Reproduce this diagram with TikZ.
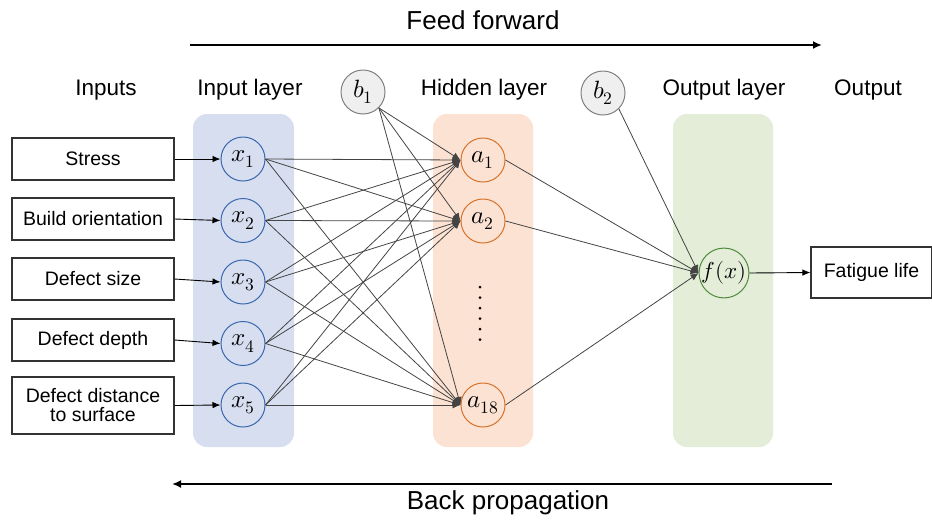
\documentclass[tikz,border=0pt]{standalone}
\usepackage{unicode-math}
\setmainfont{Liberation Sans}
\setmathfont{Latin Modern Math}
\usetikzlibrary{arrows.meta}

\definecolor{inbg}{HTML}{D7DEF0}
\definecolor{hidbg}{HTML}{FCE2D3}
\definecolor{outbg}{HTML}{E3EDD8}
\definecolor{inring}{HTML}{3B67B0}
\definecolor{hidring}{HTML}{D8732B}
\definecolor{outring}{HTML}{4E8A3A}
\definecolor{biasfill}{HTML}{EFEFEF}
\definecolor{wire}{HTML}{444444}

\tikzset{
	head/.style={font=\fontsize{22.5}{27}\selectfont},
	flow/.style={font=\fontsize{26}{31}\selectfont},
	databox/.style={draw=black!80, line width=1.2pt, minimum width=162pt, minimum height=42pt, inner sep=1pt, align=center, font=\fontsize{19.5}{22}\selectfont},
	neuron/.style={circle, line width=1pt, minimum size=44pt, inner sep=0pt, font=\fontsize{25}{27}\selectfont},
	bias/.style={neuron, draw=black!50, fill=biasfill},
	link/.style={draw=wire, line width=0.8pt, -{Latex[length=8pt, width=7pt]}},
	feed/.style={draw=black, line width=0.9pt, -{Latex[length=8pt, width=6.5pt]}},
}

\begin{document}
\begin{tikzpicture}[x=1pt, y=-1pt]
	\useasboundingbox (0,0) rectangle (932,523);
	% Layer panels:
	\fill[inbg, rounded corners=14pt] (193,114) rectangle (294,447);
	\fill[hidbg, rounded corners=14pt] (433,114) rectangle (533,447);
	\fill[outbg, rounded corners=14pt] (673,114) rectangle (773,447);

	% Headers and directions:
	\node[flow] (ff) at (483,20) {Feed forward};
	\node[flow] (bp) at (508,503) {Back propagation};
	\coordinate (ffa) at (190,45);
	\coordinate (ffb) at (822,45);
	\coordinate (bpa) at (832,484);
	\coordinate (bpb) at (172,484);
	\draw[line width=1.8pt, -{Latex[length=9pt, width=8pt]}] (ffa) -- (ffb);
	\draw[line width=1.8pt, -{Latex[length=9pt, width=8pt]}] (bpa) -- (bpb);
	\node[head] (hinputs) at (106,90) {Inputs};
	\node[head] (hinlayer) at (250,90) {Input layer};
	\node[head] (hhidden) at (484,90) {Hidden layer};
	\node[head] (houtlayer) at (724,90) {Output layer};
	\node[head] (houtput) at (868,90) {Output};

	% Inputs:
	\node[databox] (stress) at (93,159) {Stress};
	\node[databox] (orient) at (93,219) {Build orientation};
	\node[databox] (dsize) at (93,279) {Defect size};
	\node[databox] (ddepth) at (93,340) {Defect depth};
	\node[databox, minimum height=57pt] (ddist) at (93,405.5) {Defect distance\\[-3pt]to surface};
	\node[databox, minimum width=121pt, minimum height=51pt] (life) at (871.5,272.5) {Fatigue life};

	% Neurons:
	\node[neuron, draw=inring] (x1) at (243,159) {$x_1$};
	\node[neuron, draw=inring] (x2) at (243,220.5) {$x_2$};
	\node[neuron, draw=inring] (x3) at (243,282) {$x_3$};
	\node[neuron, draw=inring] (x4) at (243,343.5) {$x_4$};
	\node[neuron, draw=inring] (x5) at (243,405) {$x_5$};
	\node[neuron, draw=hidring] (a1) at (483,160) {$a_1$};
	\node[neuron, draw=hidring] (a2) at (483,221) {$a_2$};
	\node[neuron, draw=hidring] (a18) at (483,405) {$a_{18}$};
	\node[neuron, draw=outring, minimum size=46pt, font=\fontsize{23}{25}\selectfont] (fx) at (724,273) {$f(x)$};
	\node[bias] (b1) at (363,92) {$b_1$};
	\node[bias] (b2) at (603,93) {$b_2$};
	\fill (480,287) circle (1.5pt) (480,297.5) circle (1.5pt) (480,308) circle (1.5pt)
		(480,318.5) circle (1.5pt) (480,329) circle (1.5pt) (480,339.5) circle (1.5pt);

	% Wires:
	\draw[feed] (stress.east) -- (x1.west);
	\draw[feed] (orient.east) -- (x2.west);
	\draw[feed] (dsize.east) -- (x3.west);
	\draw[feed] (ddepth.east) -- (x4.west);
	\draw[feed] (ddist.east) -- (x5.west);
	\draw[link] (x1.east) -- (a1.west);
	\draw[link] (x1.east) -- (a2.west);
	\draw[link] (x1.east) -- (a18.west);
	\draw[link] (x2.east) -- (a1.west);
	\draw[link] (x2.east) -- (a2.west);
	\draw[link] (x2.east) -- (a18.west);
	\draw[link] (x3.east) -- (a1.west);
	\draw[link] (x3.east) -- (a2.west);
	\draw[link] (x3.east) -- (a18.west);
	\draw[link] (x4.east) -- (a1.west);
	\draw[link] (x4.east) -- (a2.west);
	\draw[link] (x4.east) -- (a18.west);
	\draw[link] (x5.east) -- (a1.west);
	\draw[link] (x5.east) -- (a2.west);
	\draw[link] (x5.east) -- (a18.west);
	\draw[link] (b1.south east) -- (a1.west);
	\draw[link] (b1.south east) -- (a2.west);
	\draw[link] (b1.south east) -- (a18.west);
	\draw[link] (a1.east) -- (fx.west);
	\draw[link] (a2.east) -- (fx.west);
	\draw[link] (a18.east) -- (fx.west);
	\draw[link] (b2.south east) -- (fx.west);
	\draw[feed] (fx.east) -- (life.west);
\end{tikzpicture}
\end{document}
